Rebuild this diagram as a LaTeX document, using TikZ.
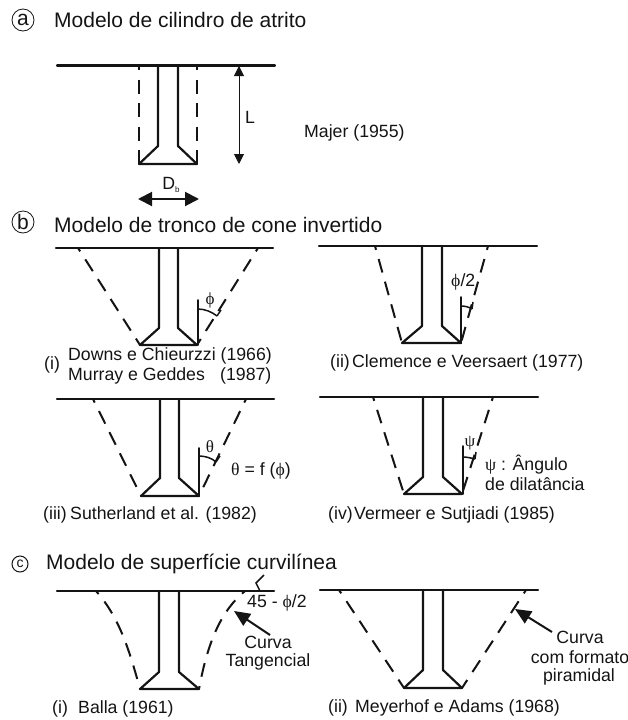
\documentclass[tikz,border=0pt]{standalone}
\usepackage{fontspec}
\setmainfont{Liberation Sans}
\newfontfamily\greekf{Liberation Serif}
\usetikzlibrary{arrows.meta}
\definecolor{ink}{gray}{0.08}
\tikzset{
  px/.style={x=1pt,y=-1pt},
  solidline/.style={draw=ink,line width=2.2pt,line cap=round,line join=round},
  dashline/.style={draw=ink,line width=2pt,dash pattern=on 14pt off 9.5pt,dash phase=10pt},
  thinline/.style={draw=ink,line width=1.5pt},
  dim/.style={draw=ink,line width=1pt,{Triangle[length=10pt,width=10pt]}-{Triangle[length=10pt,width=10pt]}},
  fatdim/.style={draw=ink,line width=2pt,{Triangle[length=14pt,width=14pt]}-{Triangle[length=14pt,width=14pt]}},
  pointer/.style={draw=ink,line width=2pt,-{Triangle[length=16pt,width=14pt]}},
  title/.style={anchor=west,inner sep=0pt,text=ink,font=\fontsize{21}{24}\selectfont},
  lab/.style={inner sep=0pt,text=ink,font=\fontsize{17.7}{20}\selectfont},
  lableft/.style={lab,anchor=west},
  badge/.style={circle,draw=ink,line width=0.8pt,inner sep=0pt,minimum size=22pt,text=ink,font=\fontsize{21}{22}\selectfont},
}
\newcommand{\drawpile}[9]{%
  % #1 ground y #2 gx0 #3 gx1 #4 stem l #5 stem r #6 shoulder y #7 base l #8 base r #9 base y
  \draw[solidline] (#2,#1) -- (#3,#1);
  \draw[solidline] (#4,#1) -- (#4,#6) -- (#7,#9) -- (#8,#9) -- (#5,#6) -- (#5,#1);
}
\begin{document}
\begin{tikzpicture}[px]
\useasboundingbox (0,0) rectangle (628,720);
% (a)
\node[badge] (ba) at (23,20) {a};
\node[title] (ta) at (54,20) {Modelo de cilindro de atrito};
\drawpile{65.5}{57}{275}{158}{178}{146}{139}{197}{164}
\draw[dashline] (139,66) -- (139,164);
\draw[dashline] (197,66) -- (197,164);
\coordinate (La) at (239,66); \coordinate (Lb) at (239,164);
\draw[dim] (La) -- (Lb);
\node[lab] (L) at (250,117) {L};
\node[lableft] (maj) at (304,133) {Majer (1955)};
\coordinate (Da) at (138,199); \coordinate (Db) at (199,199);
\draw[fatdim] (Da) -- (Db);
\node[lab] (D) at (171,185) {D\raisebox{-3pt}{\fontsize{8}{8}\selectfont b}};
% (b)
\node[badge] (bb) at (23,222) {b};
\node[title] (tb) at (54,225) {Modelo de tronco de cone invertido};
% b-i
\drawpile{248}{56}{273}{159}{178}{328}{140}{197}{345}
\draw[dashline] (78,248) -- (140,345);
\draw[dashline] (258,248) -- (197,345);
\draw[solidline,line width=1.8pt] (198,345) -- (198,300);
\draw[thinline] (198,309) .. controls (205,309) and (212,312) .. (217,316);
\draw[thinline] (217,316) -- (221,310);
\node[lab,font=\greekf\fontsize{17}{18}\selectfont] (pa) at (210,300) {ϕ};
\node[lableft] (bi) at (44,365) {(i)};
\node[lableft] (bi1) at (68,356) {Downs e Chieurzzi (1966)};
\node[lableft] (bi2) at (68,376) {Murray e Geddes};
\node[lableft] (bi3) at (220,376) {(1987)};
% b-iii
\drawpile{399}{57}{274}{160}{179}{478}{141}{199}{496}
\draw[dashline] (93,399) -- (141,496);
\draw[dashline] (246,399) -- (199,496);
\draw[solidline,line width=1.8pt] (199,496) -- (199,448);
\draw[thinline] (199,456) .. controls (205,456) and (212,458) .. (216,462);
\draw[thinline] (216,462) -- (220,456);
\node[lab,font=\greekf\fontsize{17}{18}\selectfont] (tha) at (210,447) {θ};
\node[lableft] (thb) at (231,471) {{\greekf θ} = f ({\greekf ϕ})};
\node[lableft] (biii) at (43,515) {(iii)};
\node[lableft] (biiit) at (70,515) {Sutherland et al. (1982)};
% b-ii
\drawpile{246}{319}{537}{422}{442}{326}{402}{461}{343}
\draw[dashline] (375,246) -- (402,343);
\draw[dashline] (488,246) -- (461,343);
\draw[solidline,line width=1.8pt] (461,343) -- (461,297);
\draw[thinline] (461,306) .. controls (465,306) and (469,307) .. (472,309);
\draw[thinline] (472,309) -- (473,302);
\node[lableft] (ph) at (451,282) {{\greekf ϕ}/2};
\node[lableft] (bii) at (330,363) {(ii)};
\node[lableft] (biit) at (352,363) {Clemence e Veersaert (1977)};
% b-iv
\drawpile{397}{320}{538}{423}{443}{477}{404}{462}{494}
\draw[dashline] (373,397) -- (404,494);
\draw[dashline] (493,397) -- (462,494);
\draw[solidline,line width=1.8pt] (463,494) -- (463,446);
\draw[thinline] (463,457) .. controls (467,457) and (471,458) .. (475,459);
\draw[thinline] (475,459) -- (476,452);
\node[lab,font=\greekf\fontsize{17}{18}\selectfont] (psa) at (470,443) {ψ};
\node[lableft] (psb) at (485,465) {{\greekf ψ} : Ângulo};
\node[lableft] (psc) at (485,484) {de dilatância};
\node[lableft] (biv) at (328,515) {(iv)};
\node[lableft] (bivt) at (354,515) {Vermeer e Sutjiadi (1985)};
% (c)
\node[badge,minimum size=16pt,line width=1pt,font=\fontsize{14}{14}\selectfont] (bc) at (20,564) {c};
\node[title] (tc) at (46,564) {Modelo de superfície curvilínea};
% c-i
\drawpile{591}{57}{274}{159}{179}{672}{140}{199}{689}
\draw[dashline] (96,591) .. controls (118,616) and (128,645) .. (140,689);
\draw[dashline] (245,591) .. controls (222,610) and (208,640) .. (199,689);
\draw[thinline] (260,591) -- (256,583) -- (264,575);
\node[lableft] (ang) at (247,603) {45 - {\greekf ϕ}/2};
\coordinate (Pa) at (270,635); \coordinate (Pb) at (234,611);
\draw[pointer] (Pa) -- (Pb);
\node[lab] (cv) at (268,642) {Curva};
\node[lab] (tg) at (268,662) {Tangencial};
\node[lableft] (ci) at (52,709) {(i)};
\node[lableft] (cit) at (78,709) {Balla (1961)};
% c-ii
\drawpile{590}{320}{538}{423}{443}{670}{404}{462}{688}
\draw[dashline] (339,590) -- (404,688);
\draw[dashline] (526,590) -- (462,688);
\coordinate (Qa) at (552,632); \coordinate (Qb) at (515,609);
\draw[pointer] (Qa) -- (Qb);
\node[lab] (cw) at (580,637) {Curva};
\node[lab] (cf) at (580,657) {com formato};
\node[lab] (cp) at (579,677) {piramidal};
\node[lableft] (cii) at (328,708) {(ii)};
\node[lableft] (ciit) at (355,708) {Meyerhof e Adams (1968)};
\end{tikzpicture}
\end{document}
